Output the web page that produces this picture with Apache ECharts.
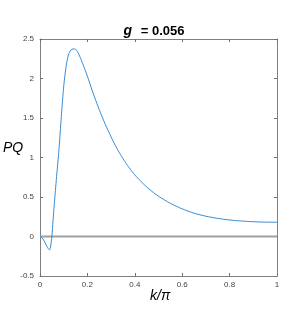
<!DOCTYPE html>
<html><head><meta charset="utf-8">
<script src="https://cdn.jsdelivr.net/npm/echarts@6/dist/echarts.min.js"></script>
<style>html,body{margin:0;padding:0;background:#fff}#c{width:307px;height:327px}</style>
</head><body><div id="c"></div>
<script>
var kOverPi = [0,0.01,0.02,0.03,0.04,0.045,0.05,0.055,0.06,0.065,0.07,0.08,0.09,0.10,0.11,0.12,0.13,0.14,0.15,0.16,0.17,0.18,0.19,0.20,0.22,0.24,0.26,0.28,0.30,0.32,0.34,0.36,0.38,0.40,0.43,0.46,0.50,0.55,0.60,0.65,0.70,0.75,0.80,0.85,0.90,0.95,1.0];
var PQ = [0,-0.02,-0.07,-0.13,-0.17,-0.12,0.0,0.2,0.4,0.58,0.76,1.1,1.52,1.9,2.15,2.3,2.36,2.375,2.37,2.33,2.265,2.19,2.11,2.03,1.85,1.685,1.53,1.39,1.26,1.14,1.035,0.94,0.855,0.78,0.685,0.60,0.51,0.42,0.35,0.295,0.257,0.229,0.209,0.196,0.187,0.182,0.18];
var xTicks = [0,0.2,0.4,0.6,0.8,1];
var yTicks = [-0.5,0,0.5,1,1.5,2,2.5];
var zeroLine = [[0,0],[1,0]];

var chart = echarts.init(document.getElementById('c'), null, {renderer:'canvas'});
var axisLine = {show:true, onZero:false, lineStyle:{color:'#808080', width:1}};
var tickStyle = {show:true, inside:true, length:3, lineStyle:{color:'#707070'}};
var lblStyle = {color:'#444', fontSize:8, fontFamily:'Liberation Sans, Arial, sans-serif'};
chart.setOption({
  animation:false,
  title:{
    text:'{i|g} {b| = 0.056}', left:149, top:17, textAlign:'center',
    textStyle:{rich:{
      i:{fontStyle:'italic', fontWeight:'bold', fontSize:14, fontFamily:'Liberation Sans, Arial, sans-serif', color:'#000'},
      b:{fontWeight:'bold', fontSize:13, fontFamily:'Liberation Sans, Arial, sans-serif', color:'#000'}
    }}
  },
  grid:{left:40, right:30, top:39, bottom:51},
  graphic:[
    {type:'text', left:3, top:141, style:{text:'PQ', font:'italic 14px Liberation Sans, Arial, sans-serif', fill:'#000'}},
    {type:'text', left:150, top:289, style:{text:'k/π', font:'italic 14px Liberation Sans, Arial, sans-serif', fill:'#000'}}
  ],
  xAxis:[
    {type:'value', min:0, max:1, interval:0.2, position:'bottom', axisLine:axisLine, axisTick:tickStyle,
     axisLabel:Object.assign({margin:5, formatter:function(v){return String(Math.round(v*10)/10);}}, lblStyle), splitLine:{show:false}},
    {type:'value', min:0, max:1, interval:0.2, position:'top', axisLine:axisLine, axisTick:tickStyle,
     axisLabel:{show:false}, splitLine:{show:false}}
  ],
  yAxis:[
    {type:'value', min:-0.5, max:2.5, interval:0.5, position:'left', axisLine:axisLine, axisTick:tickStyle,
     axisLabel:Object.assign({margin:6, formatter:function(v){return String(v);}}, lblStyle), splitLine:{show:false}},
    {type:'value', min:-0.5, max:2.5, interval:0.5, position:'right', axisLine:axisLine, axisTick:tickStyle,
     axisLabel:{show:false}, splitLine:{show:false}}
  ],
  series:[
    {type:'line', data:zeroLine, symbol:'none', lineStyle:{color:'#a0a0a0', width:2}, z:1},
    {type:'line', data:kOverPi.map(function(k,i){return [k,PQ[i]];}), symbol:'none', smooth:0.25,
     lineStyle:{color:'#1f7fcf', width:0.9}, z:2}
  ]
});
</script></body></html>
